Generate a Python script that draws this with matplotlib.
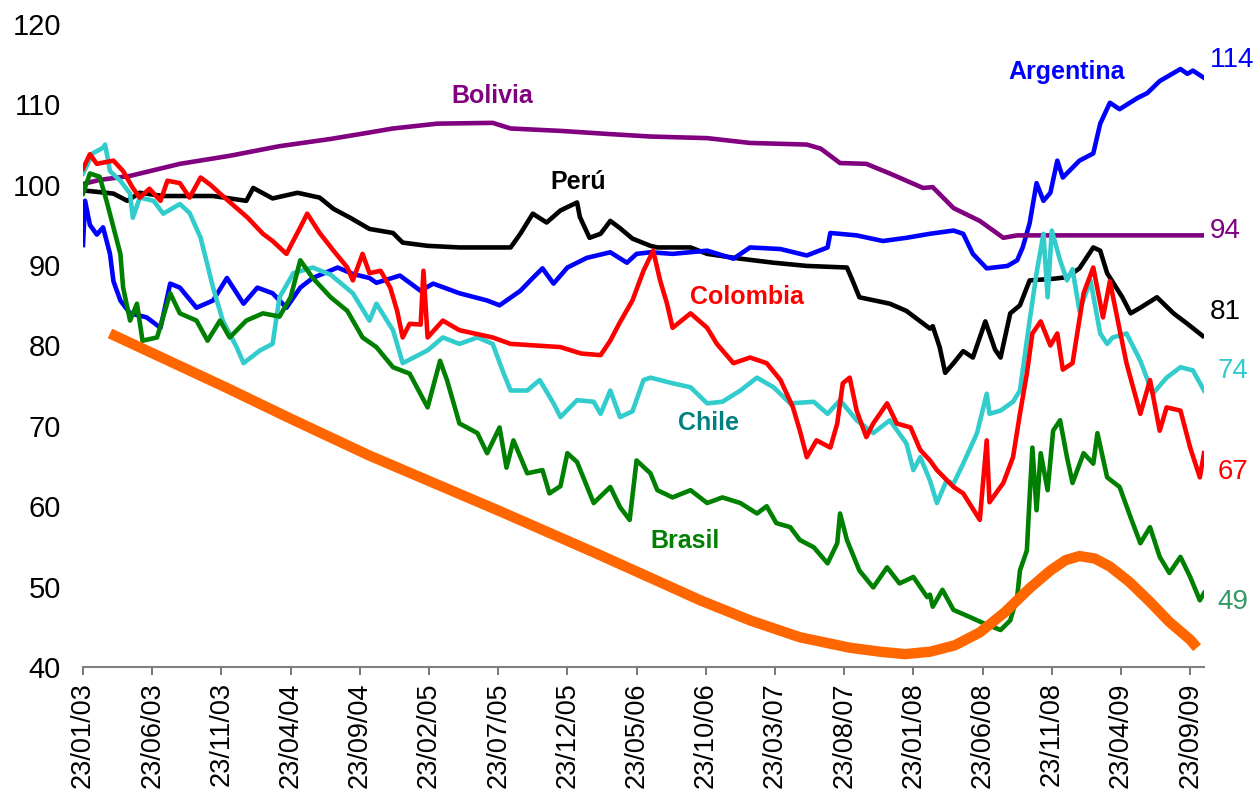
import matplotlib
matplotlib.use("Agg")
import matplotlib.pyplot as plt

plt.rcParams['font.family'] = ['Liberation Sans', 'DejaVu Sans']

# x positions are months elapsed since 23/01/03
tick_months = [0, 5, 10, 15, 20, 25, 30, 35, 40, 45, 50, 55, 60, 65, 70, 75, 80]
tick_labels = ["23/01/03", "23/06/03", "23/11/03", "23/04/04", "23/09/04", "23/02/05",
               "23/07/05", "23/12/05", "23/05/06", "23/10/06", "23/03/07", "23/08/07",
               "23/01/08", "23/06/08", "23/11/08", "23/04/09", "23/09/09"]
y_ticks = [40, 50, 60, 70, 80, 90, 100, 110, 120]

bolivia_m = [0, 1.2, 3.4, 7.0, 10.6, 14.2, 17.9, 20.7, 22.4, 25.6, 29.6, 30.9, 34.5, 38.1,
             41.0, 45.1, 48.2, 52.3, 53.3, 54.7, 56.6, 58.3, 60.7, 61.4, 62.9, 64.8, 66.5,
             67.5, 81.0]
bolivia_v = [100.1, 100.6, 101.1, 102.6, 103.6, 104.8, 105.7, 106.5, 107.0, 107.6, 107.7,
             107.0, 106.7, 106.3, 106.0, 105.8, 105.2, 105.0, 104.5, 102.7, 102.6, 101.4,
             99.6, 99.7, 97.1, 95.5, 93.4, 93.7, 93.7]

argentina_m = [0, 0.15, 0.5, 1.0, 1.45, 1.95, 2.2, 2.7, 3.4, 4.6, 5.6, 6.3, 7.0, 8.2, 9.4,
               10.4, 11.6, 12.6, 13.7, 14.7, 15.7, 16.6, 18.4, 19.5, 20.7, 21.2, 22.9, 24.4,
               25.3, 27.2, 29.2, 30.1, 31.6, 32.5, 33.2, 34.0, 35.0, 36.4, 38.1, 39.3, 40.0,
               41.0, 42.6, 45.1, 47.0, 48.2, 50.4, 52.3, 53.8, 54.0, 55.9, 57.8, 59.5, 61.2,
               62.9, 63.6, 64.3, 65.3, 66.8, 67.5, 67.9, 68.4, 68.9, 69.4, 69.9, 70.4, 70.8,
               72.0, 73.0, 73.5, 74.2, 74.9, 76.2, 76.9, 77.8, 79.3, 79.8, 80.2, 81.0]
argentina_v = [92.5, 98.0, 95.0, 93.8, 94.7, 91.4, 88.0, 85.6, 84.0, 83.5, 82.2, 87.7, 87.2,
               84.7, 85.6, 88.4, 85.2, 87.2, 86.5, 84.7, 87.2, 88.4, 89.7, 88.9, 88.4, 87.8,
               88.7, 86.8, 87.7, 86.5, 85.6, 85.0, 86.8, 88.4, 89.6, 87.7, 89.7, 90.9, 91.6,
               90.3, 91.4, 91.6, 91.4, 91.8, 90.8, 92.2, 92.0, 91.2, 92.2, 94.0, 93.7, 93.0,
               93.4, 93.9, 94.3, 93.9, 91.4, 89.6, 89.9, 90.6, 92.2, 95.2, 100.2, 98.0, 99.0,
               103.0, 100.9, 103.0, 103.9, 107.6, 110.2, 109.4, 110.8, 111.4, 112.9, 114.4,
               113.8, 114.2, 113.3]

peru_m = [0, 2.2, 3.2, 4.1, 5.8, 9.4, 11.8, 12.3, 13.7, 15.5, 17.1, 18.1, 19.3, 20.0, 20.7,
          22.4, 23.1, 24.9, 27.2, 30.9, 31.6, 32.5, 33.5, 34.5, 35.7, 35.9, 36.6, 37.4, 38.1,
          38.8, 39.7, 41.0, 41.5, 43.9, 45.1, 47.5, 49.9, 52.3, 55.2, 55.6, 56.1, 58.3, 59.5,
          61.2, 61.4, 61.9, 62.3, 62.9, 63.6, 64.3, 65.2, 65.9, 66.3, 67.0, 67.7, 68.4, 70.1,
          71.1, 72.0, 73.0, 73.5, 74.0, 75.1, 75.7, 76.4, 77.6, 78.8, 79.8, 80.9]
peru_v = [99.3, 98.9, 98.0, 99.0, 98.6, 98.6, 98.0, 99.6, 98.3, 99.0, 98.4, 97.0, 95.9, 95.2,
          94.5, 94.0, 92.8, 92.4, 92.2, 92.2, 93.9, 96.4, 95.3, 96.8, 97.8, 96.0, 93.4, 93.9,
          95.5, 94.6, 93.3, 92.4, 92.2, 92.2, 91.4, 90.8, 90.3, 89.9, 89.7, 88.1, 86.0, 85.2,
          84.3, 82.1, 82.4, 79.8, 76.6, 77.8, 79.3, 78.5, 83.0, 79.5, 78.5, 84.0, 85.0, 88.1,
          88.3, 88.5, 89.6, 92.2, 91.8, 89.0, 86.0, 84.0, 84.7, 86.0, 84.0, 82.7, 81.2]

colombia_m = [0, 0.5, 1.0, 2.2, 2.9, 3.6, 4.1, 4.8, 5.6, 6.1, 7.0, 7.7, 8.5, 9.2, 9.9, 11.1,
              11.9, 13.0, 13.7, 14.7, 15.7, 16.2, 17.1, 18.1, 19.1, 19.5, 20.2, 20.7, 21.5,
              22.2, 22.7, 23.1, 23.6, 24.4, 24.6, 24.9, 26.0, 27.2, 29.6, 30.9, 34.5, 36.0,
              37.4, 38.1, 38.8, 39.7, 40.5, 41.2, 41.7, 42.2, 42.6, 43.9, 45.1, 45.8, 46.0,
              47.0, 48.2, 49.4, 50.4, 51.3, 51.8, 52.3, 53.0, 54.0, 54.5, 54.9, 55.4, 55.9,
              56.6, 57.1, 58.1, 58.8, 59.8, 60.5, 61.2, 61.7, 62.9, 63.6, 64.8, 65.3, 65.5,
              66.5, 67.2, 67.7, 68.2, 68.6, 69.2, 69.9, 70.4, 70.8, 71.5, 72.3, 73.0, 73.7,
              74.2, 74.9, 75.4, 76.4, 77.1, 77.8, 78.3, 79.3, 80.0, 80.7, 81.0]
colombia_v = [102.0, 103.8, 102.6, 103.0, 101.7, 99.6, 98.4, 99.5, 98.0, 100.5, 100.2, 98.4,
              100.9, 100.0, 98.9, 97.1, 95.9, 93.9, 93.0, 91.4, 94.7, 96.4, 94.0, 91.8, 89.7,
              88.1, 91.4, 89.0, 89.3, 87.2, 84.3, 81.0, 82.7, 82.6, 89.3, 81.0, 83.1, 81.9,
              81.0, 80.2, 79.8, 79.0, 78.8, 80.6, 82.9, 85.6, 89.3, 91.8, 88.1, 85.2, 82.2,
              84.0, 82.2, 80.2, 79.8, 77.8, 78.5, 77.8, 75.7, 72.3, 69.4, 66.1, 68.2, 67.3,
              70.3, 75.3, 76.0, 71.9, 68.6, 70.3, 72.8, 70.3, 69.8, 67.0, 65.7, 64.5, 62.4,
              61.6, 58.3, 68.2, 60.5, 62.9, 66.1, 71.5, 76.5, 81.5, 83.0, 80.0, 81.5, 77.0,
              77.8, 86.5, 89.7, 83.5, 88.0, 82.0, 77.8, 71.5, 75.7, 69.4, 72.3, 71.9, 67.3,
              63.6, 66.6]

chile_m = [0, 0.7, 1.45, 1.6, 1.95, 2.7, 3.4, 3.6, 4.1, 5.1, 5.8, 7.0, 7.7, 8.5, 9.4, 10.1,
           11.1, 11.6, 12.8, 13.7, 14.2, 15.2, 16.6, 17.9, 19.5, 20.7, 21.2, 22.4, 23.1, 24.9,
           26.0, 27.2, 28.5, 29.6, 30.4, 30.9, 32.1, 33.0, 34.0, 34.5, 35.7, 36.9, 37.4, 38.1,
           38.8, 39.7, 40.5, 41.0, 42.6, 43.9, 45.1, 46.2, 47.5, 48.7, 49.9, 51.1, 52.8, 53.8,
           54.7, 55.9, 57.1, 58.3, 59.5, 60.0, 60.5, 61.2, 61.7, 62.4, 62.9, 63.6, 64.6, 65.3,
           65.5, 66.3, 67.2, 67.7, 68.4, 68.9, 69.4, 69.7, 70.0, 70.6, 71.1, 71.5, 72.0, 72.8,
           73.5, 74.0, 74.4, 75.4, 76.4, 77.3, 78.3, 79.3, 80.2, 81.0]
chile_v = [101.4, 103.9, 104.6, 105.0, 101.7, 100.5, 98.9, 95.9, 98.4, 98.0, 96.4, 97.6, 96.5,
           93.4, 87.2, 83.1, 79.8, 77.8, 79.4, 80.2, 86.0, 89.0, 89.7, 88.8, 86.5, 83.1, 85.2,
           81.9, 77.8, 79.4, 81.0, 80.2, 81.0, 80.2, 76.5, 74.4, 74.4, 75.7, 72.8, 71.1, 73.2,
           73.0, 71.5, 74.4, 71.1, 71.8, 75.7, 76.0, 75.3, 74.8, 72.8, 73.0, 74.4, 76.0, 74.8,
           72.8, 73.0, 71.5, 73.2, 70.7, 69.1, 70.7, 67.8, 64.5, 66.1, 63.2, 60.4, 63.2, 62.8,
           65.3, 69.1, 74.0, 71.5, 71.9, 73.0, 74.4, 83.1, 89.0, 93.9, 86.0, 94.3, 90.6, 88.1,
           89.5, 84.3, 88.1, 81.5, 80.2, 81.0, 81.5, 78.1, 74.0, 76.0, 77.3, 76.9, 74.4]

brasil_m = [0, 0.5, 1.2, 1.7, 2.2, 2.7, 2.9, 3.4, 3.9, 4.3, 5.35, 6.3, 7.0, 8.2, 9.0, 9.9,
            10.6, 11.8, 13.0, 14.2, 15.0, 15.7, 16.6, 17.9, 19.1, 20.2, 21.2, 22.4, 23.6, 24.9,
            25.8, 26.3, 27.2, 28.5, 29.2, 30.1, 30.6, 31.1, 32.1, 33.2, 33.7, 34.5, 35.0, 35.7,
            36.9, 38.1, 38.8, 39.5, 40.0, 41.0, 41.5, 42.6, 43.9, 45.1, 46.2, 47.5, 48.7, 49.4,
            50.1, 51.1, 51.8, 52.8, 53.8, 54.5, 54.7, 55.2, 56.1, 57.1, 58.1, 59.0, 60.0, 61.0,
            61.2, 61.4, 62.1, 62.9, 64.1, 65.0, 66.3, 67.0, 67.5, 67.7, 68.2, 68.4, 68.6, 68.9,
            69.2, 69.7, 70.1, 70.6, 71.1, 71.5, 72.3, 73.0, 73.3, 74.0, 74.9, 75.7, 76.4, 77.1,
            77.8, 78.5, 79.3, 80.0, 80.7, 81.0]
brasil_v = [98.9, 101.4, 101.0, 98.0, 94.7, 91.4, 87.2, 83.1, 85.2, 80.6, 81.0, 86.5, 84.0,
            83.1, 80.6, 83.1, 81.0, 83.1, 84.0, 83.6, 86.0, 90.6, 88.4, 86.0, 84.3, 81.0, 79.8,
            77.3, 76.5, 72.3, 78.1, 75.7, 70.3, 69.1, 66.6, 69.8, 64.8, 68.2, 64.1, 64.5, 61.6,
            62.5, 66.6, 65.5, 60.4, 62.4, 59.9, 58.3, 65.7, 64.1, 62.0, 61.1, 62.0, 60.4, 61.1,
            60.4, 59.1, 60.0, 57.9, 57.4, 55.8, 54.9, 52.9, 55.4, 59.1, 55.8, 52.0, 49.9, 52.4,
            50.4, 51.2, 48.7, 49.0, 47.5, 49.6, 47.1, 46.2, 45.5, 44.6, 45.8, 48.7, 52.0, 54.5,
            61.1, 67.3, 59.5, 66.6, 62.0, 69.4, 70.7, 66.1, 62.9, 66.6, 65.3, 69.1, 63.6, 62.4,
            58.6, 55.4, 57.4, 53.7, 51.7, 53.7, 51.2, 48.3, 49.2]

trend_m = [1.95, 10.3, 15.0, 20.7, 30.1, 37.0, 41.0, 44.6, 48.2, 51.8, 55.4, 57.6, 59.4,
           61.2, 63.0, 64.8, 66.6, 68.4, 69.9, 71.0, 72.0, 73.1, 74.2, 75.6, 77.1, 78.5,
           80.0, 80.5]
trend_v = [81.5, 74.8, 70.9, 66.3, 59.4, 54.2, 51.1, 48.3, 45.8, 43.7, 42.4, 41.9, 41.6,
           41.9, 42.7, 44.3, 46.8, 49.8, 52.0, 53.3, 53.8, 53.5, 52.5, 50.6, 48.1, 45.6,
           43.4, 42.4]

fig = plt.figure(figsize=(12.6, 8.01), dpi=100)
ax = fig.add_axes([83 / 1260, 134 / 801, 1121 / 1260, 643 / 801])

lw = 3.3
ax.plot(peru_m, peru_v, color='#000000', lw=lw)
ax.plot(argentina_m, argentina_v, color='#0000FF', lw=lw)
ax.plot(bolivia_m, bolivia_v, color='#800080', lw=lw)
ax.plot(chile_m, chile_v, color='#33CCCC', lw=lw)
ax.plot(colombia_m, colombia_v, color='#FF0000', lw=lw)
ax.plot(brasil_m, brasil_v, color='#008000', lw=lw)
ax.plot(trend_m, trend_v, color='#FF6600', lw=7.5, solid_capstyle='butt',
        solid_joinstyle='round')

ax.set_xlim(0, 81.0)
ax.set_ylim(40, 120)
ax.set_yticks(y_ticks)
ax.set_yticklabels([str(v) for v in y_ticks], fontsize=21)
ax.set_xticks(tick_months)
ax.set_xticklabels(tick_labels, rotation=90, fontsize=19.5)

for s in ['top', 'right', 'left']:
    ax.spines[s].set_visible(False)
ax.spines['bottom'].set_color('#808080')
ax.spines['bottom'].set_linewidth(1.5)
ax.tick_params(axis='y', length=0, pad=16)
ax.tick_params(axis='x', direction='out', length=6, width=1.2, color='#606060', pad=5)

# series names
names = [("Argentina", 71.1, 114.0, '#0000FF'), ("Bolivia", 29.6, 111.0, '#800080'),
         ("Perú", 35.8, 100.4, '#000000'), ("Colombia", 48.0, 86.0, '#FF0000'),
         ("Chile", 45.2, 70.4, '#008080'), ("Brasil", 43.5, 55.7, '#008000')]
for txt, xm, yv, c in names:
    ax.text(xm, yv, txt, color=c, fontsize=18, fontweight='bold', ha='center', va='center')

# end values
ends = [("114", 81.4, 115.5, '#0000FF'), ("94", 81.4, 94.2, '#800080'),
        ("81", 81.4, 84.2, '#000000'), ("74", 82.0, 76.8, '#33CCCC'),
        ("67", 82.0, 64.2, '#FF0000'), ("49", 82.0, 48.1, '#339966')]
for txt, xm, yv, c in ends:
    ax.text(xm, yv, txt, color=c, fontsize=20, ha='left', va='center', clip_on=False)

fig.savefig("out.png", dpi=100)
